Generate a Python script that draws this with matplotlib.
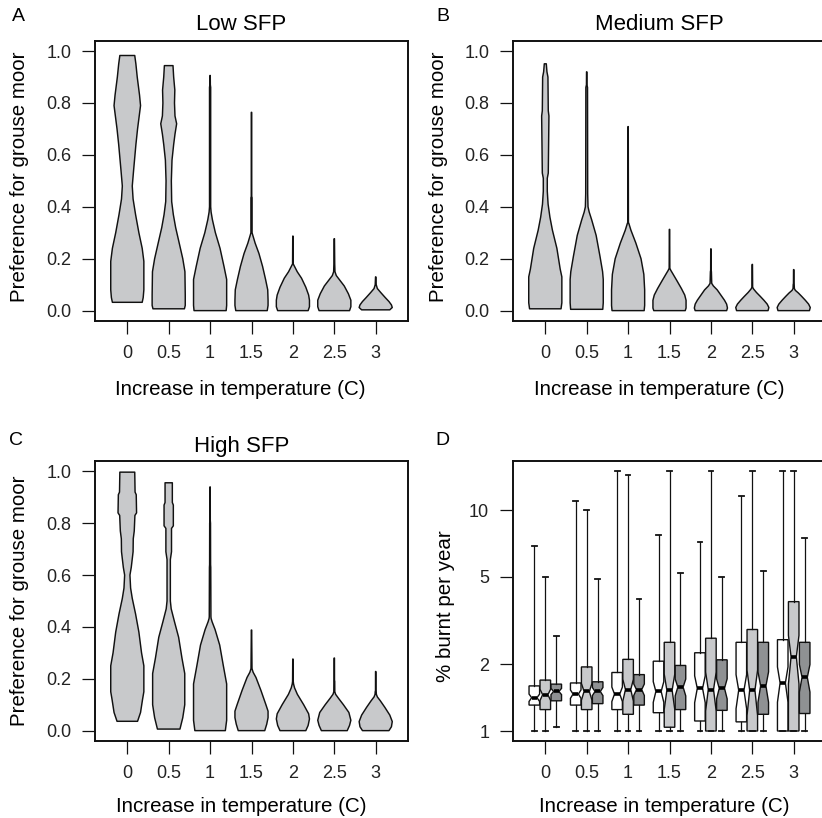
import numpy as np
import matplotlib
matplotlib.use('Agg')
import matplotlib.pyplot as plt

plt.rcParams['font.family'] = ['Liberation Sans', 'DejaVu Sans']

# ---------------- data ----------------
temps = ['0', '0.5', '1', '1.5', '2', '2.5', '3']

# Violin outlines: y levels and relative half-widths
low_y = [
    [0.032, 0.05, 0.08, 0.19, 0.24, 0.3, 0.37, 0.43, 0.48, 0.54, 0.64, 0.7, 0.74, 0.79, 0.83, 0.9, 0.95, 0.983],
    [0.007, 0.02, 0.06, 0.15, 0.2, 0.27, 0.32, 0.37, 0.42, 0.5, 0.58, 0.64, 0.68, 0.72, 0.75, 0.8, 0.85, 0.9, 0.944],
    [0.0, 0.02, 0.12, 0.17, 0.24, 0.3, 0.35, 0.38, 0.40, 0.86, 0.87, 0.906],
    [0.0, 0.02, 0.04, 0.08, 0.12, 0.17, 0.22, 0.26, 0.29, 0.30, 0.435, 0.44, 0.764],
    [0.0, 0.015, 0.04, 0.06, 0.09, 0.125, 0.15, 0.17, 0.18, 0.287],
    [0.0, 0.015, 0.04, 0.065, 0.095, 0.12, 0.135, 0.15, 0.18, 0.277],
    [0.003, 0.012, 0.022, 0.035, 0.05, 0.07, 0.085, 0.1, 0.13],
]
low_w = [
    [0.9, 0.96, 1.0, 1.0, 0.9, 0.7, 0.5, 0.35, 0.3, 0.38, 0.52, 0.62, 0.7, 0.8, 0.74, 0.6, 0.52, 0.45],
    [0.95, 1.0, 1.0, 0.98, 0.85, 0.6, 0.42, 0.28, 0.18, 0.16, 0.2, 0.3, 0.38, 0.48, 0.38, 0.35, 0.37, 0.3, 0.26],
    [0.97, 1.0, 1.0, 0.84, 0.6, 0.32, 0.14, 0.06, 0.035, 0.035, 0.015, 0.01],
    [0.95, 1.0, 1.0, 0.98, 0.85, 0.67, 0.45, 0.22, 0.08, 0.035, 0.035, 0.015, 0.01],
    [0.92, 1.0, 1.0, 0.95, 0.78, 0.52, 0.26, 0.1, 0.02, 0.01],
    [0.92, 1.0, 1.0, 0.85, 0.6, 0.3, 0.12, 0.04, 0.025, 0.01],
    [0.85, 1.0, 0.95, 0.8, 0.58, 0.3, 0.1, 0.03, 0.01],
]

medium_y = [
    [0.007, 0.03, 0.06, 0.13, 0.16, 0.24, 0.31, 0.36, 0.41, 0.46, 0.51, 0.53, 0.64, 0.75, 0.77, 0.9, 0.92, 0.951],
    [0.005, 0.03, 0.12, 0.15, 0.21, 0.29, 0.35, 0.38, 0.40, 0.45, 0.86, 0.87, 0.92],
    [0.0, 0.02, 0.08, 0.14, 0.2, 0.26, 0.31, 0.335, 0.34, 0.709],
    [0.0, 0.01, 0.04, 0.06, 0.085, 0.115, 0.14, 0.155, 0.163, 0.313],
    [0.0, 0.01, 0.025, 0.04, 0.06, 0.08, 0.095, 0.105, 0.15, 0.155, 0.238],
    [0.0, 0.012, 0.025, 0.04, 0.055, 0.07, 0.083, 0.09, 0.178],
    [0.0, 0.012, 0.025, 0.04, 0.055, 0.068, 0.078, 0.085, 0.1, 0.105, 0.158],
]
medium_w = [
    [0.95, 1.0, 1.0, 1.0, 0.9, 0.7, 0.43, 0.28, 0.17, 0.12, 0.12, 0.18, 0.2, 0.22, 0.18, 0.16, 0.1, 0.06],
    [0.97, 1.0, 1.0, 0.96, 0.8, 0.57, 0.3, 0.15, 0.08, 0.06, 0.05, 0.015, 0.01],
    [0.97, 1.0, 1.0, 0.95, 0.78, 0.47, 0.17, 0.05, 0.02, 0.01],
    [0.95, 1.0, 1.0, 0.92, 0.72, 0.45, 0.22, 0.08, 0.02, 0.01],
    [0.95, 1.0, 0.95, 0.82, 0.6, 0.38, 0.15, 0.05, 0.03, 0.015, 0.01],
    [0.95, 1.0, 0.9, 0.7, 0.48, 0.25, 0.08, 0.02, 0.01],
    [0.95, 1.0, 0.9, 0.7, 0.48, 0.28, 0.1, 0.04, 0.03, 0.015, 0.01],
]

high_y = [
    [0.036, 0.07, 0.12, 0.15, 0.25, 0.3, 0.38, 0.45, 0.51, 0.55, 0.6, 0.63, 0.69, 0.74, 0.77, 0.83, 0.84, 0.91, 0.92, 0.997],
    [0.006, 0.05, 0.1, 0.22, 0.28, 0.36, 0.42, 0.47, 0.5, 0.66, 0.69, 0.78, 0.79, 0.87, 0.88, 0.956],
    [0.0, 0.04, 0.18, 0.25, 0.33, 0.39, 0.42, 0.433, 0.44, 0.63, 0.64, 0.8, 0.81, 0.94],
    [0.0, 0.025, 0.05, 0.075, 0.1, 0.155, 0.205, 0.225, 0.235, 0.24, 0.388],
    [0.0, 0.02, 0.045, 0.065, 0.1, 0.14, 0.165, 0.18, 0.19, 0.276],
    [0.0, 0.02, 0.04, 0.07, 0.1, 0.125, 0.14, 0.15, 0.19, 0.195, 0.28],
    [0.0, 0.015, 0.035, 0.06, 0.09, 0.115, 0.13, 0.14, 0.15, 0.155, 0.228],
]
high_w = [
    [0.62, 0.8, 0.92, 1.0, 1.0, 0.86, 0.7, 0.5, 0.3, 0.2, 0.16, 0.24, 0.35, 0.36, 0.42, 0.46, 0.56, 0.54, 0.47, 0.45],
    [0.68, 0.85, 0.97, 0.97, 0.8, 0.6, 0.35, 0.15, 0.1, 0.1, 0.17, 0.17, 0.28, 0.28, 0.22, 0.22],
    [0.92, 1.0, 1.0, 0.8, 0.58, 0.3, 0.12, 0.06, 0.05, 0.04, 0.03, 0.025, 0.012, 0.01],
    [0.8, 0.92, 1.0, 1.0, 0.87, 0.57, 0.27, 0.1, 0.05, 0.03, 0.01],
    [0.78, 0.92, 1.0, 0.95, 0.65, 0.27, 0.1, 0.04, 0.02, 0.01],
    [0.78, 0.92, 1.0, 0.88, 0.55, 0.25, 0.08, 0.03, 0.025, 0.012, 0.01],
    [0.8, 0.95, 1.0, 0.85, 0.55, 0.28, 0.1, 0.04, 0.03, 0.012, 0.01],
]

# Panel D: % burnt per year box statistics (low / medium / high SFP)
low_whislo = [1.0, 1.0, 1.0, 1.0, 1.0, 1.0, 1.0]
low_q1 = [1.31, 1.31, 1.25, 1.21, 1.11, 1.10, 1.0]
low_med = [1.415, 1.47, 1.47, 1.51, 1.56, 1.53, 1.65]
low_q3 = [1.60, 1.65, 1.84, 2.07, 2.26, 2.52, 2.59]
low_whishi = [6.87, 10.98, 15.06, 7.73, 7.15, 11.55, 15.06]

medium_whislo = [1.0, 1.0, 1.0, 1.0, 1.0, 1.0, 1.0]
medium_q1 = [1.25, 1.25, 1.19, 1.04, 1.0, 1.0, 1.0]
medium_med = [1.46, 1.51, 1.54, 1.53, 1.54, 1.53, 2.17]
medium_q3 = [1.70, 1.95, 2.11, 2.52, 2.63, 2.88, 3.85]
medium_whishi = [4.96, 10.0, 14.35, 15.06, 15.06, 15.06, 15.06]

high_whislo = [1.04, 1.0, 1.0, 1.0, 1.0, 1.0, 1.0]
high_q1 = [1.37, 1.33, 1.31, 1.25, 1.24, 1.19, 1.20]
high_med = [1.51, 1.51, 1.54, 1.58, 1.56, 1.60, 1.75]
high_q3 = [1.63, 1.67, 1.80, 1.98, 2.10, 2.52, 2.52]
high_whishi = [2.68, 4.89, 3.97, 5.2, 5.0, 5.3, 7.5]
n_obs = 70  # used for the notch (median +/- 1.58 IQR / sqrt(n))

# ---------------- style ----------------
W, H = 822, 818
VIOLIN_FILL = '#c8c9cb'
BOX_COLORS = ['#ffffff', '#c8c9cb', '#8f9193']
EDGE = '#111111'
TICK_FS = 13
LABEL_FS = 14.8
TITLE_FS = 16
LETTER_FS = 14

fig = plt.figure(figsize=(W / 100, H / 100), dpi=100)


def px_axes(left, top, right, bottom):
    return fig.add_axes([left / W, 1 - bottom / H, (right - left) / W, (bottom - top) / H])


def ftext(x, y, s, **kw):
    fig.text(x / W, 1 - y / H, s, **kw)


def style_axes(ax):
    for sp in ax.spines.values():
        sp.set_linewidth(1.4)
        sp.set_color(EDGE)
    ax.tick_params(axis='both', direction='out', length=9.3, width=0.9, color=EDGE,
                   labelsize=TICK_FS, labelcolor='#222222')
    ax.tick_params(axis='x', pad=8.2)
    ax.tick_params(axis='y', pad=7.8)
    ax.set_xticks(range(len(temps)))
    ax.set_xticklabels(temps)
    ax.set_xlim(-0.78, 6.78)


def draw_violins(ax, ys_list, ws_list):
    for i, (ys, ws) in enumerate(zip(ys_list, ws_list)):
        ys = np.asarray(ys, dtype=float)
        hw = np.asarray(ws, dtype=float) * 0.4
        xs = np.concatenate([i + hw, (i - hw)[::-1]])
        yy = np.concatenate([ys, ys[::-1]])
        ax.fill(xs, yy, facecolor=VIOLIN_FILL, edgecolor=EDGE, linewidth=1.05,
                joinstyle='round')
    ax.set_ylim(-0.04, 1.04)
    ax.set_yticks([0.0, 0.2, 0.4, 0.6, 0.8, 1.0])
    ax.set_yticklabels(['0.0', '0.2', '0.4', '0.6', '0.8', '1.0'])


# Panel A
axA = px_axes(95, 40.7, 408, 321)
draw_violins(axA, low_y, low_w)
style_axes(axA)
# Panel B
axB = px_axes(513, 40.7, 826, 321)
draw_violins(axB, medium_y, medium_w)
style_axes(axB)
# Panel C
axC = px_axes(95, 461, 408, 741)
draw_violins(axC, high_y, high_w)
style_axes(axC)

# Panel D
axD = px_axes(513, 461, 826, 741)
groups = [
    (low_whislo, low_q1, low_med, low_q3, low_whishi),
    (medium_whislo, medium_q1, medium_med, medium_q3, medium_whishi),
    (high_whislo, high_q1, high_med, high_q3, high_whishi),
]
offsets = [-0.265, 0.0, 0.265]
bw = 0.255
for g, (wl, q1, md, q3, wh) in enumerate(groups):
    stats = []
    for i in range(len(temps)):
        iqr = q3[i] - q1[i]
        half = 1.58 * iqr / np.sqrt(n_obs)
        stats.append(dict(med=md[i], q1=q1[i], q3=q3[i], whislo=wl[i], whishi=wh[i],
                          cilo=md[i] - half, cihi=md[i] + half, fliers=[]))
    pos = [i + offsets[g] for i in range(len(temps))]
    axD.bxp(stats, positions=pos, widths=bw, shownotches=True, patch_artist=True,
            showfliers=False, capwidths=bw * 0.45, manage_ticks=False,
            boxprops=dict(facecolor=BOX_COLORS[g], edgecolor=EDGE, linewidth=1.0),
            medianprops=dict(color='black', linewidth=2.6, solid_capstyle='butt'),
            whiskerprops=dict(color=EDGE, linewidth=0.9),
            capprops=dict(color=EDGE, linewidth=1.3))
axD.set_yscale('log')
axD.set_ylim(0.9011, 16.67)
axD.set_yticks([1, 2, 5, 10])
axD.set_yticklabels(['1', '2', '5', '10'])
axD.yaxis.set_minor_locator(matplotlib.ticker.NullLocator())
style_axes(axD)

# ---------------- text ----------------
# panel letters
ftext(12, 20.7, 'A', fontsize=LETTER_FS, ha='left', va='baseline')
ftext(436, 20.7, 'B', fontsize=LETTER_FS, ha='left', va='baseline')
ftext(9, 445, 'C', fontsize=LETTER_FS, ha='left', va='baseline')
ftext(435, 445, 'D', fontsize=LETTER_FS, ha='left', va='baseline')

# titles
ftext(241.5, 30, 'Low SFP', fontsize=TITLE_FS, ha='center', va='baseline')
ftext(659, 30, 'Medium SFP', fontsize=TITLE_FS, ha='center', va='baseline')
ftext(242, 451.7, 'High SFP', fontsize=TITLE_FS, ha='center', va='baseline')

# x labels
xl = 'Increase in temperature (C)'
ftext(240, 395, xl, fontsize=LABEL_FS, ha='center', va='baseline')
ftext(659, 395, xl, fontsize=LABEL_FS, ha='center', va='baseline')
ftext(241.7, 811.7, xl, fontsize=LABEL_FS, ha='center', va='baseline')
ftext(664, 811.7, xl, fontsize=LABEL_FS, ha='center', va='baseline')

# y labels
yl = 'Preference for grouse moor'
for (x, y, s) in [(25, 176.7, yl), (444.3, 176.7, yl), (25, 601, yl), (451, 606, '% burnt per year')]:
    ftext(x, y, s, fontsize=LABEL_FS, ha='center', va='baseline', rotation=90,
          rotation_mode='anchor')

fig.savefig('out.png', dpi=100, facecolor='white')
